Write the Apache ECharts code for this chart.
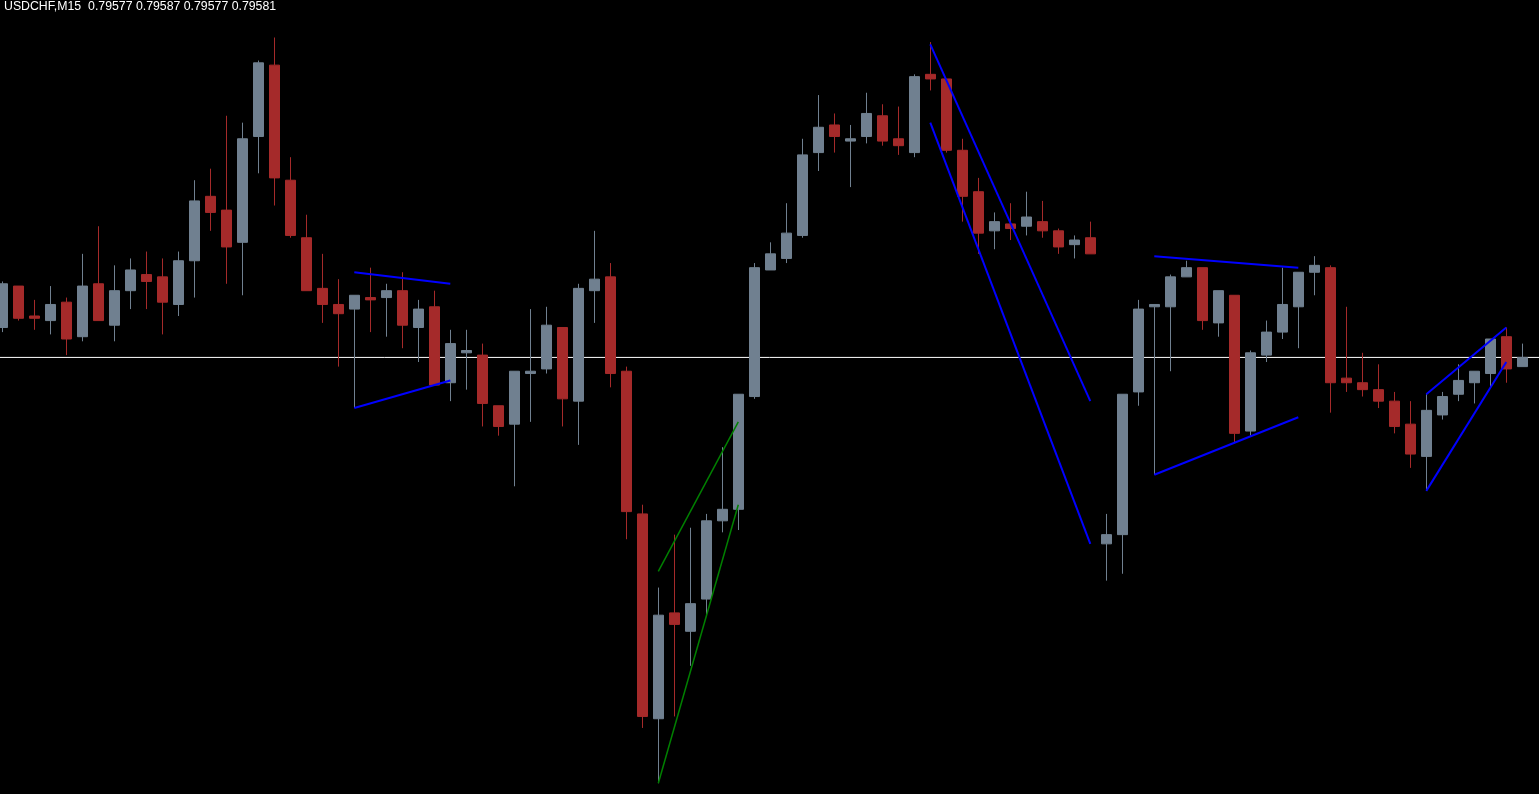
<!DOCTYPE html>
<html>
<head>
<meta charset="utf-8">
<script src="https://cdn.jsdelivr.net/npm/echarts@6/dist/echarts.min.js"></script>
<style>
html,body{margin:0;padding:0;background:#000;}
#chart{width:1539px;height:794px;}
</style>
</head>
<body>
<div id="chart"></div>
<script>
const symbolName = 'USDCHF,M15';

const opens = [
0.79594,0.79612,0.79599,0.79597,0.79605,0.79590,0.79613,0.79595,0.79610,0.79617,
0.79616,0.79604,0.79623,0.79651,0.79645,0.79631,0.79677,0.79708,0.79658,0.79633,
0.79611,0.79604,0.79602,0.79607,0.79607,0.79610,0.79594,0.79603,0.79570,0.79583,
0.79582,0.79560,0.79552,0.79574,0.79576,0.79594,0.79562,0.79610,0.79616,0.79575,
0.79513,0.79424,0.79470,0.79462,0.79476,0.79510,0.79515,0.79564,0.79619,0.79624,
0.79634,0.79670,0.79682,0.79675,0.79677,0.79686,0.79676,0.79670,0.79704,0.79702,
0.79671,0.79653,0.79636,0.79639,0.79638,0.79640,0.79636,0.79630,0.79633,0.79500,
0.79504,0.79566,0.79603,0.79603,0.79616,0.79620,0.79596,0.79608,0.79549,0.79582,
0.79592,0.79603,0.79618,0.79620,0.79572,0.79570,0.79567,0.79562,0.79552,0.79538,
0.79556,0.79565,0.79570,0.79574,0.79590,0.79577];

const closes = [
0.79613,0.79598,0.79598,0.79604,0.79589,0.79612,0.79597,0.79610,0.79619,0.79614,
0.79605,0.79623,0.79649,0.79644,0.79629,0.79676,0.79709,0.79659,0.79634,0.79610,
0.79604,0.79600,0.79608,0.79606,0.79610,0.79595,0.79602,0.79569,0.79587,0.79584,
0.79561,0.79551,0.79575,0.79575,0.79595,0.79563,0.79611,0.79615,0.79574,0.79514,
0.79425,0.79469,0.79465,0.79474,0.79510,0.79515,0.79565,0.79620,0.79626,0.79635,
0.79669,0.79681,0.79677,0.79676,0.79687,0.79675,0.79673,0.79703,0.79702,0.79671,
0.79651,0.79635,0.79640,0.79637,0.79642,0.79636,0.79629,0.79632,0.79626,0.79504,
0.79565,0.79602,0.79604,0.79616,0.79620,0.79597,0.79610,0.79548,0.79583,0.79592,
0.79604,0.79618,0.79621,0.79570,0.79570,0.79567,0.79562,0.79551,0.79539,0.79558,
0.79564,0.79571,0.79575,0.79589,0.79576,0.79581];

const lows = [
0.79592,0.79597,0.79593,0.79591,0.79582,0.79588,0.79597,0.79588,0.79602,0.79602,
0.79591,0.79599,0.79607,0.79636,0.79613,0.79608,0.79661,0.79647,0.79633,0.79610,
0.79596,0.79577,0.79559,0.79592,0.79590,0.79585,0.79579,0.79569,0.79562,0.79567,
0.79551,0.79547,0.79525,0.79553,0.79574,0.79551,0.79543,0.79596,0.79568,0.79502,
0.79420,0.79396,0.79425,0.79447,0.79469,0.79505,0.79506,0.79563,0.79619,0.79622,
0.79633,0.79662,0.79670,0.79655,0.79674,0.79673,0.79669,0.79668,0.79697,0.79670,
0.79640,0.79626,0.79628,0.79632,0.79634,0.79633,0.79626,0.79624,0.79626,0.79484,
0.79487,0.79560,0.79530,0.79575,0.79616,0.79593,0.79590,0.79544,0.79547,0.79579,
0.79589,0.79585,0.79608,0.79557,0.79566,0.79564,0.79559,0.79548,0.79533,0.79523,
0.79554,0.79562,0.79561,0.79568,0.79570,0.79577];

const highs = [
0.79614,0.79612,0.79606,0.79612,0.79607,0.79626,0.79638,0.79621,0.79624,0.79627,
0.79624,0.79627,0.79658,0.79663,0.79686,0.79683,0.79710,0.79720,0.79668,0.79643,
0.79626,0.79615,0.79608,0.79620,0.79613,0.79618,0.79606,0.79610,0.79593,0.79593,
0.79587,0.79560,0.79575,0.79602,0.79603,0.79594,0.79613,0.79636,0.79622,0.79577,
0.79517,0.79481,0.79504,0.79507,0.79513,0.79542,0.79565,0.79622,0.79631,0.79648,
0.79676,0.79695,0.79687,0.79682,0.79696,0.79691,0.79690,0.79704,0.79718,0.79702,
0.79676,0.79659,0.79644,0.79648,0.79653,0.79649,0.79637,0.79634,0.79640,0.79513,
0.79565,0.79606,0.79604,0.79617,0.79623,0.79620,0.79610,0.79608,0.79584,0.79597,
0.79620,0.79618,0.79625,0.79621,0.79603,0.79583,0.79578,0.79566,0.79562,0.79565,
0.79566,0.79578,0.79575,0.79589,0.79594,0.79587];

// trend lines: [bar index, price]
const wedge1Upper = [[22, 0.79618], [28, 0.79613]];
const wedge1Lower = [[22, 0.79559], [28, 0.79571]];
const greenUpper  = [[41, 0.79488], [46, 0.79553]];
const greenLower  = [[41, 0.79396], [46, 0.79517]];
const channelUpper = [[58, 0.79717], [68, 0.79562]];
const channelLower = [[58, 0.79683], [68, 0.79500]];
const wedge2Upper = [[72, 0.79625], [81, 0.79620]];
const wedge2Lower = [[72, 0.79530], [81, 0.79555]];
const wedge3Upper = [[89, 0.79565], [94, 0.79594]];
const wedge3Lower = [[89, 0.79523], [94, 0.79579]];

const priceMax = 0.797363;
const priceMin = 0.793913;

const last = opens.length - 1;
const fmt = v => v.toFixed(5);
const headerText = symbolName + '  ' + [opens[last], highs[last], lows[last], closes[last]].map(fmt).join(' ');

const candleData = opens.map((o, i) => [i, o, closes[i], lows[i], highs[i]]);

const xMin = -0.14375;
const xMax = xMin + 1539 / 16;

const BLUE = '#0000FF', GREEN = '#008000';
function trend(data, color, width) {
  return {
    type: 'line', data: data, symbol: 'none', silent: true, z: 5,
    lineStyle: { color: color, width: width }, animation: false
  };
}

const chart = echarts.init(document.getElementById('chart'));
chart.setOption({
  backgroundColor: '#000000',
  animation: false,
  title: {
    text: headerText, left: 4, top: 1, padding: 0,
    textStyle: { color: '#ffffff', fontSize: 12.3, fontWeight: 'normal', fontFamily: '"Liberation Sans", Arial, sans-serif' }
  },
  grid: { left: 0, top: 0, width: 1539, height: 794, containLabel: false },
  xAxis: {
    type: 'value', min: xMin, max: xMax,
    show: false, splitLine: { show: false }
  },
  yAxis: {
    type: 'value', min: priceMin, max: priceMax, scale: true,
    show: false, splitLine: { show: false }
  },
  series: [
    {
      // bid line at the last close, drawn across the whole width
      type: 'line', z: 1, symbol: 'none', silent: true,
      data: [[xMin, closes[last]], [xMax, closes[last]]],
      lineStyle: { color: '#ffffff', width: 1 }
    },
    {
      type: 'candlestick',
      z: 2,
      data: candleData,
      encode: { x: 0, y: [1, 2, 3, 4] },
      barWidth: 10,
      itemStyle: {
        color: '#708090', color0: '#A52A2A',
        borderColor: '#708090', borderColor0: '#A52A2A',
        borderWidth: 1
      }
    },
    trend(wedge1Upper, BLUE, 2),
    trend(wedge1Lower, BLUE, 2),
    trend(greenUpper, GREEN, 1.5),
    trend(greenLower, GREEN, 1.5),
    trend(channelUpper, BLUE, 2),
    trend(channelLower, BLUE, 2),
    trend(wedge2Upper, BLUE, 2),
    trend(wedge2Lower, BLUE, 2),
    trend(wedge3Upper, BLUE, 2),
    trend(wedge3Lower, BLUE, 2)
  ]
});
</script>
</body>
</html>
